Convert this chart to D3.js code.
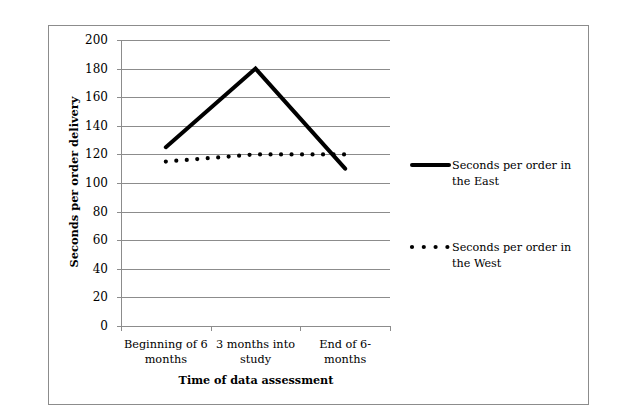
<!DOCTYPE html>
<html>
<head>
<meta charset="utf-8">
<script src="https://cdn.jsdelivr.net/npm/d3@7"></script>
<style>
  body { margin: 0; background: #fff; }
  svg text { font-family: "DejaVu Serif", "Liberation Serif", serif; fill: #000; }
</style>
</head>
<body>
<svg id="chart" width="637" height="410"></svg>
<script>
// categories on the x axis (two-line labels)
const categories = ["Beginning of 6 months", "3 months into study", "End of 6-months"];
const categoryLines = [["Beginning of 6", "months"], ["3 months into", "study"], ["End of 6-", "months"]];
const eastValues = [125, 180, 110];
const westValues = [115, 120, 120];
const seriesNames = ["Seconds per order in the East", "Seconds per order in the West"];
const yTicks = [0, 20, 40, 60, 80, 100, 120, 140, 160, 180, 200];

const svg = d3.select("#chart");

// outer frame
svg.append("rect")
    .attr("x", 48.5).attr("y", 25.5)
    .attr("width", 540).attr("height", 379)
    .attr("fill", "none").attr("stroke", "#8c8c8c").attr("stroke-width", 1);

const margin = { left: 121, top: 40, right: 390, bottom: 326 };

const x = d3.scaleBand()
    .domain(categories)
    .range([margin.left, margin.right]);

const y = d3.scaleLinear()
    .domain([0, 200])
    .range([margin.bottom, margin.top]);

// gridlines
svg.append("g")
    .selectAll("line")
    .data(yTicks)
    .enter()
    .append("line")
    .attr("x1", margin.left - 4)
    .attr("x2", margin.right)
    .attr("y1", d => Math.round(y(d)) + 0.5)
    .attr("y2", d => Math.round(y(d)) + 0.5)
    .attr("stroke", "#8c8c8c");

// y axis line
svg.append("line")
    .attr("x1", margin.left + 0.5).attr("x2", margin.left + 0.5)
    .attr("y1", margin.top).attr("y2", margin.bottom + 0.5)
    .attr("stroke", "#8c8c8c");

// y tick labels
svg.append("g")
    .selectAll("text")
    .data(yTicks)
    .enter()
    .append("text")
    .attr("x", margin.left - 13)
    .attr("y", d => y(d) + 4)
    .attr("text-anchor", "end")
    .style("font-size", "12px")
    .text(d => d);

// x category ticks
const xTickPos = categories.map(c => x(c)).concat([margin.right]);
svg.append("g")
    .selectAll("line")
    .data(xTickPos)
    .enter()
    .append("line")
    .attr("x1", d => Math.round(d) + 0.5)
    .attr("x2", d => Math.round(d) + 0.5)
    .attr("y1", margin.bottom)
    .attr("y2", margin.bottom + 5)
    .attr("stroke", "#8c8c8c");

// x category labels
const catG = svg.append("g");
categories.forEach((c, i) => {
    const t = catG.append("text")
        .attr("x", x(c) + x.bandwidth() / 2)
        .attr("y", 348)
        .attr("text-anchor", "middle")
        .style("font-size", "11.3px");
    categoryLines[i].forEach((line, j) => {
        t.append("tspan")
            .attr("x", x(c) + x.bandwidth() / 2)
            .attr("dy", j === 0 ? 0 : 15)
            .text(line);
    });
});

// axis titles
svg.append("text")
    .attr("x", 256).attr("y", 384)
    .attr("text-anchor", "middle")
    .style("font-size", "11.2px").style("font-weight", "bold")
    .text("Time of data assessment");

svg.append("text")
    .attr("transform", "translate(78,182) rotate(-90)")
    .attr("text-anchor", "middle")
    .style("font-size", "11.4px").style("font-weight", "bold")
    .text("Seconds per order delivery");

const lineGen = d3.line()
    .x((d, i) => x(categories[i]) + x.bandwidth() / 2)
    .y(d => y(d));

// East: solid thick
svg.append("path")
    .datum(eastValues)
    .attr("d", lineGen)
    .attr("fill", "none")
    .attr("stroke", "#000")
    .attr("stroke-width", 4)
    .attr("stroke-linecap", "round")
    .attr("stroke-linejoin", "miter");

// West: round dots
svg.append("path")
    .datum(westValues)
    .attr("d", lineGen)
    .attr("fill", "none")
    .attr("stroke", "#000")
    .attr("stroke-width", 4.2)
    .attr("stroke-linecap", "round")
    .attr("stroke-dasharray", "0 10.5");

// legend
const legend = svg.append("g");
const legendY = [165, 247];
legend.append("line")
    .attr("x1", 412).attr("x2", 449)
    .attr("y1", legendY[0]).attr("y2", legendY[0])
    .attr("stroke", "#000").attr("stroke-width", 4)
    .attr("stroke-linecap", "round");
legend.append("line")
    .attr("x1", 412).attr("x2", 448.5)
    .attr("y1", legendY[1]).attr("y2", legendY[1])
    .attr("stroke", "#000").attr("stroke-width", 4.2)
    .attr("stroke-linecap", "round")
    .attr("stroke-dasharray", "0 11.8");

const legendLines = [["Seconds per order in", "the East"], ["Seconds per order in", "the West"]];
seriesNames.forEach((name, i) => {
    const t = legend.append("text")
        .attr("x", 452)
        .attr("y", legendY[i] + 4)
        .style("font-size", "11.2px");
    legendLines[i].forEach((line, j) => {
        t.append("tspan")
            .attr("x", 452)
            .attr("dy", j === 0 ? 0 : 16)
            .text(line);
    });
});
</script>
</body>
</html>
